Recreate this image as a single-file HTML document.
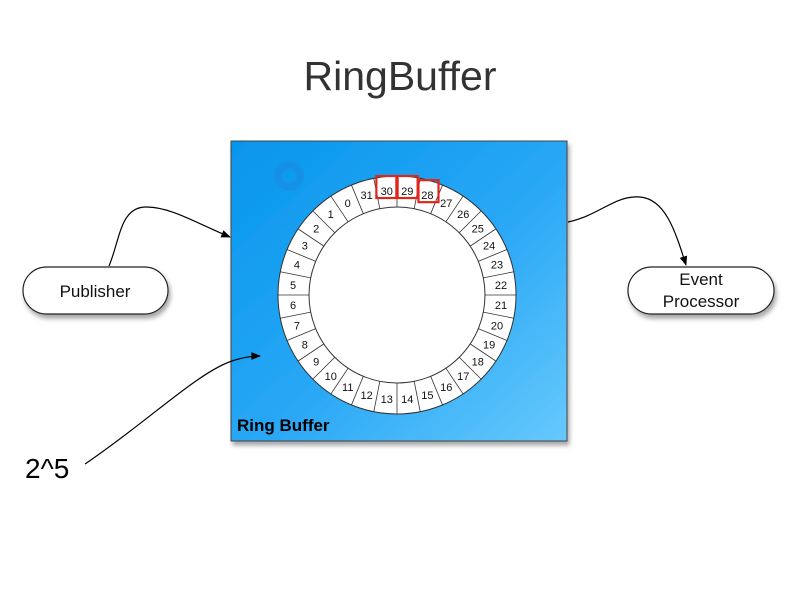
<!DOCTYPE html>
<html><head><meta charset="utf-8"><style>
html,body{margin:0;padding:0;background:#fff;}
svg{display:block;font-family:"Liberation Sans",sans-serif;}
</style></head><body>
<svg id="s" width="800" height="600" viewBox="0 0 800 600">
<defs>
<linearGradient id="bg" x1="0" y1="0" x2="1" y2="1">
<stop offset="0" stop-color="#0596ec"/><stop offset="0.55" stop-color="#2aa8f6"/><stop offset="1" stop-color="#66c9fc"/>
</linearGradient>
<marker id="ar" viewBox="0 0 10 10" refX="9" refY="5" markerWidth="9" markerHeight="8" orient="auto"><path d="M0,1 L10,5 L0,9 z" fill="#000"/></marker>
<filter id="sh" x="-10%" y="-10%" width="130%" height="130%"><feDropShadow dx="2" dy="4" stdDeviation="2.5" flood-color="#000" flood-opacity="0.35"/></filter>
</defs>
<text x="400" y="90" text-anchor="middle" font-size="41" fill="#333">RingBuffer</text>
<rect x="231" y="141" width="336" height="300" fill="url(#bg)" stroke="#444" stroke-width="1" filter="url(#sh)"/>
<circle cx="289" cy="176" r="11" fill="none" stroke="#1e88e0" stroke-width="7" opacity="0.6"/>
<g id="ring"></g>
<text x="237" y="431" font-size="17" font-weight="bold" fill="#000">Ring Buffer</text>
<g filter="url(#sh)">
<rect x="23" y="267" width="145" height="47" rx="23.5" fill="#fff" stroke="#222" stroke-width="1.2"/>
<rect x="628" y="267" width="146" height="47" rx="23.5" fill="#fff" stroke="#222" stroke-width="1.2"/>
</g>
<text x="95" y="297" text-anchor="middle" font-size="17" fill="#111">Publisher</text>
<text x="701" y="285" text-anchor="middle" font-size="17" fill="#111">Event</text>
<text x="701" y="307" text-anchor="middle" font-size="17" fill="#111">Processor</text>
<path d="M109,266 C120,240 120,208 145,207 C170,206 200,225 230,237" fill="none" stroke="#000" stroke-width="1.2" marker-end="url(#ar)"/>
<path d="M568,222 C600,215 615,195 640,197 C665,199 675,230 686,265" fill="none" stroke="#000" stroke-width="1.2" marker-end="url(#ar)"/>
<path d="M85,464 C150,420 200,370 235,360 C245,357 252,356 260,356" fill="none" stroke="#000" stroke-width="1.2" marker-end="url(#ar)"/>
<text x="25" y="478" font-size="28" fill="#000">2^5</text>
</svg>
<script>
const slots = Array.from({length:32},(_, i)=>i);
const highlighted = [30,29,28];
const NS="http://www.w3.org/2000/svg";
const g=document.getElementById('ring');
const cx=397, cy=295, R=119, r=88, n=slots.length, step=360/n;
function ang(k){return (29-k)*step+step/2;}
function pt(a,rad){const t=(a-90)*Math.PI/180;return [cx+rad*Math.cos(t),cy+rad*Math.sin(t)];}
const outer=document.createElementNS(NS,'circle');
outer.setAttribute('cx',cx);outer.setAttribute('cy',cy);outer.setAttribute('r',R);
outer.setAttribute('fill','#fff');outer.setAttribute('stroke','#333');outer.setAttribute('stroke-width','1');


g.appendChild(outer);
slots.forEach(k=>{
  const a0=ang(k)-step/2;
  const p1=pt(a0,r),p2=pt(a0,R);
  const l=document.createElementNS(NS,'line');
  l.setAttribute('x1',p1[0]);l.setAttribute('y1',p1[1]);l.setAttribute('x2',p2[0]);l.setAttribute('y2',p2[1]);
  l.setAttribute('stroke','#333');l.setAttribute('stroke-width','0.8');
  
  
  g.appendChild(l);
  const c=pt(ang(k),(R+r)/2+1);
  const t=document.createElementNS(NS,'text');
  t.setAttribute('x',c[0]);t.setAttribute('y',c[1]+4);t.setAttribute('text-anchor','middle');
  t.setAttribute('font-size','11');t.setAttribute('fill','#111');
  t.textContent=k;
  
  
  g.appendChild(t);
  if(highlighted.includes(k)){
    const b=document.createElementNS(NS,'rect');
    const cc=pt(ang(k),(R+r)/2+5);
    b.setAttribute('x',cc[0]-10);b.setAttribute('y',cc[1]-11);b.setAttribute('width',20);b.setAttribute('height',22);
    b.setAttribute('fill','none');b.setAttribute('stroke','#e0261b');b.setAttribute('stroke-width','2.2');
    
    
    g.appendChild(b);
  }
});
const inner=document.createElementNS(NS,'circle');
inner.setAttribute('cx',cx);inner.setAttribute('cy',cy);inner.setAttribute('r',r);
inner.setAttribute('fill','#fff');inner.setAttribute('stroke','#333');inner.setAttribute('stroke-width','1');


g.appendChild(inner);
</script>
</body></html>
